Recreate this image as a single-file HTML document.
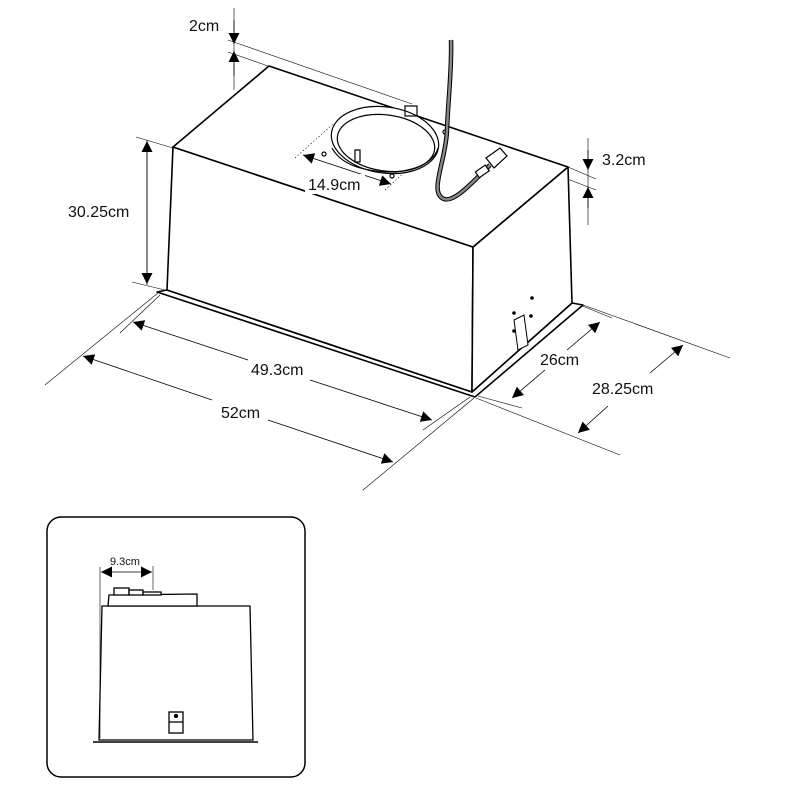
<!DOCTYPE html>
<html><head><meta charset="utf-8"><style>
html,body{margin:0;padding:0;background:#fff}
svg{display:block}
text{font-family:"Liberation Sans","DejaVu Sans",sans-serif;fill:#111}
</style></head><body>
<svg width="800" height="800" viewBox="0 0 800 800" xmlns="http://www.w3.org/2000/svg">
<defs>
<marker id="a" viewBox="0 0 10 10" refX="10" refY="5" markerWidth="13" markerHeight="11" markerUnits="userSpaceOnUse" orient="auto-start-reverse"><path d="M0,0L10,5L0,10z" fill="#000"/></marker>
</defs>
<rect width="800" height="800" fill="#fff"/>
<g stroke="#000" fill="none" stroke-width="0.6">
<line x1="228" y1="40" x2="412" y2="104"/>
<line x1="228" y1="52" x2="268" y2="66"/>
<line x1="234" y1="8" x2="234" y2="90"/>
<line x1="136" y1="137" x2="173" y2="148"/>
<line x1="132" y1="282" x2="165" y2="290"/>
<line x1="147" y1="140" x2="147" y2="285"/>
<line x1="568" y1="167" x2="596" y2="179"/>
<line x1="565" y1="178" x2="596" y2="190"/>
<line x1="588" y1="138" x2="588" y2="225"/>
<line x1="120" y1="333" x2="160" y2="295"/>
<line x1="423" y1="430" x2="470" y2="397"/>
<line x1="45" y1="385" x2="158" y2="293"/>
<line x1="363" y1="490" x2="474" y2="398"/>
<line x1="583" y1="305" x2="730" y2="358"/>
<line x1="476" y1="398" x2="620" y2="455"/>
<line x1="580" y1="305" x2="612" y2="318"/>
<line x1="478" y1="396" x2="522" y2="408"/>
</g>
<g stroke="#000" stroke-width="0.8" fill="none">
<line x1="147" y1="141" x2="147" y2="284" marker-start="url(#a)" marker-end="url(#a)"/>
<line x1="133" y1="322" x2="248" y2="360" marker-start="url(#a)"/>
<line x1="310" y1="380" x2="432" y2="420" marker-end="url(#a)"/>
<line x1="83" y1="356" x2="212" y2="400" marker-start="url(#a)"/>
<line x1="268" y1="420" x2="393" y2="462" marker-end="url(#a)"/>
<line x1="600" y1="322" x2="567" y2="350" marker-start="url(#a)"/>
<line x1="545" y1="370" x2="512" y2="398" marker-end="url(#a)"/>
<line x1="683" y1="345" x2="650" y2="373" marker-start="url(#a)"/>
<line x1="608" y1="406" x2="578" y2="433" marker-end="url(#a)"/>
<line x1="234" y1="20" x2="234" y2="44" marker-end="url(#a)"/>
<line x1="234" y1="76" x2="234" y2="51" marker-end="url(#a)"/>
<line x1="588" y1="150" x2="588" y2="170" marker-end="url(#a)"/>
<line x1="588" y1="208" x2="588" y2="187" marker-end="url(#a)"/>
</g>
<g stroke="#000" stroke-width="1.6" fill="#fff" stroke-linejoin="round">
<polygon points="157,292 475,397 583,305 572,303 472,392 167,290"/>
<polygon points="173,147 473,247 472,392 167,290"/>
<polygon points="473,247 568,167 572,303 472,392"/>
<polygon points="269,66 568,167 473,247 173,147"/>
</g>
<g stroke="#000" fill="none" stroke-width="0.6">
<line x1="295" y1="158" x2="333" y2="124" stroke-dasharray="1.5,2"/>
<line x1="385" y1="190" x2="420" y2="158" stroke-dasharray="1.5,2"/>
<line x1="303" y1="155" x2="391" y2="184" stroke-width="0.8" marker-start="url(#a)" marker-end="url(#a)"/>
</g>
<g stroke="#000" fill="none" stroke-width="1.2">
<ellipse cx="385" cy="140" rx="54" ry="33" transform="rotate(8 385 140)" fill="#fff"/>
<ellipse cx="386" cy="143" rx="49" ry="28" transform="rotate(8 386 143)"/>
<path d="M332,148 Q345,172 395,172 Q432,168 438,148"/>
<rect x="405" y="106" width="12" height="10"/>
<rect x="355" y="150" width="5" height="12" fill="#fff"/>
<circle cx="324" cy="154" r="2"/><circle cx="392" cy="176" r="2"/><circle cx="445" cy="132" r="2"/>
</g>
<rect x="305" y="174" width="60" height="20" fill="#fff"/>
<path d="M451,40 C452,70 448,100 447,130 C446,160 430,190 442,198 C452,205 470,185 490,165" stroke="#000" stroke-width="4.5" fill="none"/>
<path d="M451,40 C452,70 448,100 447,130 C446,160 430,190 442,198 C452,205 470,185 490,165" stroke="#888" stroke-width="2.5" fill="none"/>
<g stroke="#000" stroke-width="1.2" fill="#fff">
<polygon points="486,158 500,148 507,156 494,168"/>
<rect x="476" y="168" width="12" height="7" transform="rotate(-35 482 171)"/>
</g>
<g stroke="#000" stroke-width="1" fill="#fff">
<polygon points="514,320 524,315 528,345 518,350"/>
<circle cx="532" cy="298" r="1.3" fill="#000"/><circle cx="514" cy="313" r="1.3" fill="#000"/><circle cx="531" cy="316" r="1.3" fill="#000"/><circle cx="514" cy="331" r="1.3" fill="#000"/>
</g>
<g font-size="16">
<text x="189" y="31">2cm</text>
<text x="68" y="217">30.25cm</text>
<text x="602" y="165">3.2cm</text>
<text x="308" y="190">14.9cm</text>
<text x="251" y="375">49.3cm</text>
<text x="221" y="418">52cm</text>
<text x="540" y="365">26cm</text>
<text x="592" y="394">28.25cm</text>
</g>
<rect x="47" y="517" width="258" height="260" rx="14" fill="#fff" stroke="#000" stroke-width="1.5"/>
<g stroke="#000" fill="#fff" stroke-width="1.3">
<polygon points="102,606 250,606 253,740 99,740"/>
<polygon points="109,595 197,594 197,606 108,606"/>
<rect x="114" y="588" width="15" height="7"/>
<rect x="129" y="590" width="14" height="5"/>
<rect x="143" y="592" width="18" height="3"/>
<line x1="93" y1="742" x2="258" y2="742" stroke-width="1.6"/>
<rect x="169" y="712" width="14" height="21"/>
<line x1="169" y1="722" x2="183" y2="722"/>
<circle cx="176" cy="716" r="1.5" fill="#000"/>
</g>
<g stroke="#000" stroke-width="0.6">
<line x1="100" y1="567" x2="100" y2="738"/>
<line x1="153" y1="566" x2="153" y2="590"/>
</g>
<line x1="101" y1="572" x2="152" y2="572" stroke="#000" stroke-width="0.8" marker-start="url(#a)" marker-end="url(#a)"/>
<text x="110" y="565" font-size="11">9.3cm</text>
</svg>
</body></html>
